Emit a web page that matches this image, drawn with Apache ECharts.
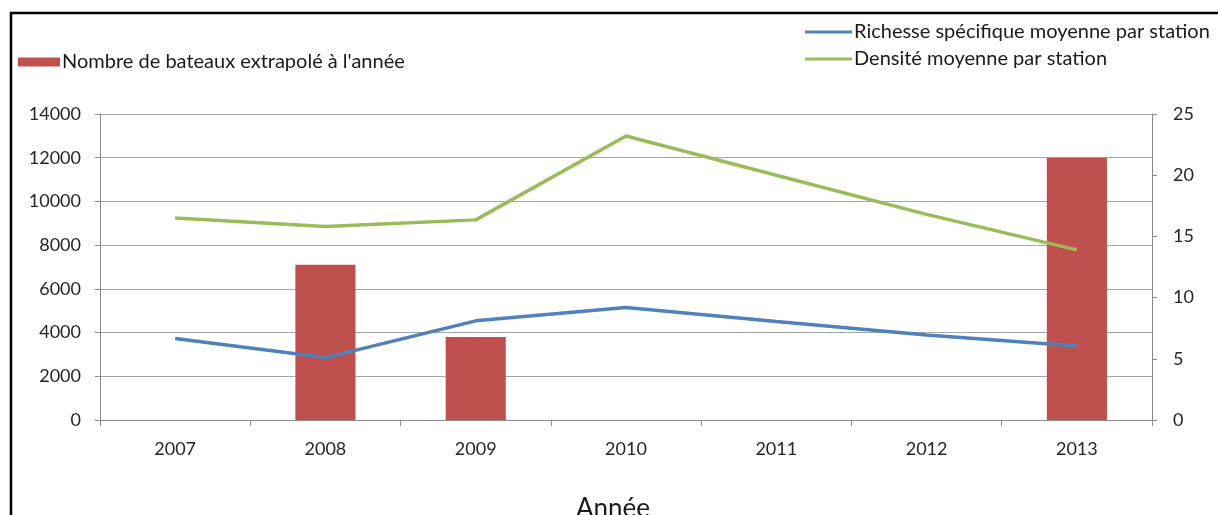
<!DOCTYPE html>
<html><head><meta charset="utf-8">
<script src="https://cdn.jsdelivr.net/npm/echarts@6/dist/echarts.min.js"></script>
<style>html,body{margin:0;padding:0;background:#fff}#c{width:1218px;height:515px}</style>
</head><body><div id="c"></div>
<script>
const categories = ['2007','2008','2009','2010','2011','2012','2013'];
const bateaux = [null, 7100, 3800, null, null, null, 12000];
const richesse = [6.65, 5.1, 8.1, 9.2, 8.05, 6.95, 6.05];
const densite = [16.5, 15.8, 16.35, 23.2, 20.0, 16.8, 13.9];
const nameBateaux = "Nombre de bateaux extrapolé à l'année";
const nameRichesse = "Richesse spécifique moyenne par station";
const nameDensite = "Densité moyenne par station";
const font = 'Lato, "Open Sans", sans-serif';

const chart = echarts.init(document.getElementById('c'), null, {renderer:'canvas'});
chart.setOption({
  animation:false,
  textStyle:{fontFamily:font},
  grid:{left:100, right:66, top:114, bottom:95, containLabel:false, outerBoundsMode:'none'},
  graphic:[{type:'rect', shape:{x:11, y:13, width:1300, height:600}, style:{fill:'none', stroke:'#000', lineWidth:2.5}, silent:true}],
  legend:[
    {data:[{name:nameBateaux, icon:'rect'}], left:13, top:47, itemWidth:42, itemHeight:9, itemGap:4,
     textStyle:{fontFamily:font, fontSize:20, color:'#1a1a1a', padding:[0,0,0,-3]}},
    {data:[{name:nameRichesse, icon:'rect'},{name:nameDensite, icon:'rect'}], orient:'vertical', left:800, top:17,
     itemWidth:47, itemHeight:3, itemGap:7,
     textStyle:{fontFamily:font, fontSize:20, color:'#1a1a1a', padding:[0,0,0,-3]}}
  ],
  xAxis:{type:'category', data:categories, boundaryGap:true,
    name:'Année', nameLocation:'middle', nameGap:76, nameTextStyle:{fontSize:26, color:'#1a1a1a', fontFamily:font, padding:[0,26,0,0]},
    axisLine:{lineStyle:{color:'#8c8c8c', width:1}},
    axisTick:{show:true, length:6, lineStyle:{color:'#8c8c8c'}},
    axisLabel:{fontSize:18, color:'#262626', margin:20, fontFamily:font}},
  yAxis:[
    {type:'value', min:0, max:14000, interval:2000, position:'left',
     axisLine:{show:true, lineStyle:{color:'#8c8c8c'}},
     axisTick:{show:true, length:5, lineStyle:{color:'#8c8c8c'}},
     axisLabel:{fontSize:18, color:'#262626', margin:19, fontFamily:font, formatter:function(v){return String(v);}},
     splitLine:{show:true, lineStyle:{color:'#a6a6a6', width:1}}},
    {type:'value', min:0, max:25, interval:5, position:'right',
     axisLine:{show:true, lineStyle:{color:'#8c8c8c'}},
     axisTick:{show:true, length:5, lineStyle:{color:'#8c8c8c'}},
     axisLabel:{fontSize:18, color:'#262626', margin:21, fontFamily:font},
     splitLine:{show:false}}
  ],
  series:[
    {name:nameBateaux, type:'bar', data:bateaux, yAxisIndex:0, barWidth:'40%', itemStyle:{color:'#C0504D'}},
    {name:nameRichesse, type:'line', data:richesse, yAxisIndex:1, showSymbol:false, symbol:'none', lineStyle:{color:'#4F81BD', width:3.5}, itemStyle:{color:'#4F81BD'}},
    {name:nameDensite, type:'line', data:densite, yAxisIndex:1, showSymbol:false, symbol:'none', lineStyle:{color:'#9BBB59', width:3.5}, itemStyle:{color:'#9BBB59'}}
  ]
});
</script></body></html>
